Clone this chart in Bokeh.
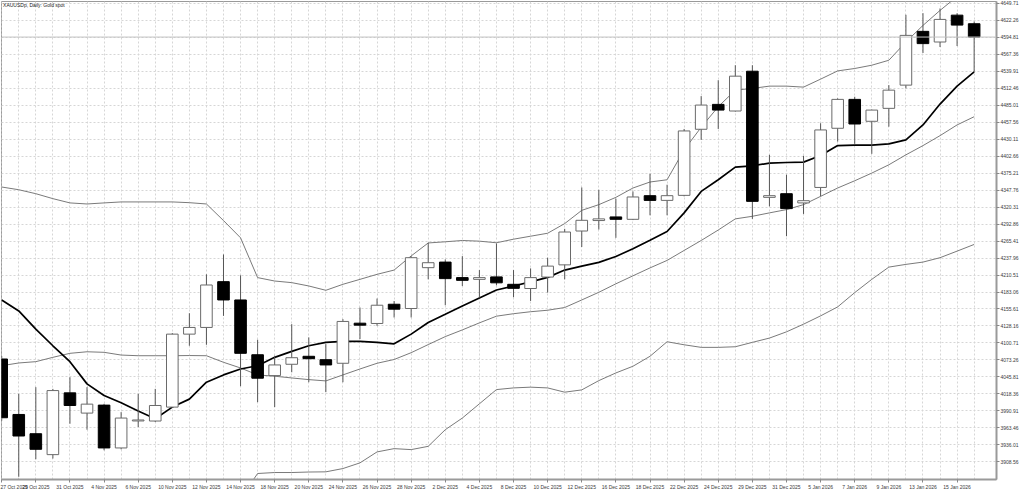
from bokeh.plotting import figure
from bokeh.models import Range1d, FixedTicker, PrintfTickFormatter, Span, Label, ColumnDataSource
from bokeh.embed import file_html
from bokeh.resources import INLINE

dates = ["27 Oct 2025", "28 Oct 2025", "29 Oct 2025", "30 Oct 2025", "31 Oct 2025",
         "3 Nov 2025", "4 Nov 2025", "5 Nov 2025", "6 Nov 2025", "7 Nov 2025",
         "10 Nov 2025", "11 Nov 2025", "12 Nov 2025", "13 Nov 2025", "14 Nov 2025",
         "17 Nov 2025", "18 Nov 2025", "19 Nov 2025", "20 Nov 2025", "21 Nov 2025",
         "24 Nov 2025", "25 Nov 2025", "26 Nov 2025", "27 Nov 2025", "28 Nov 2025",
         "1 Dec 2025", "2 Dec 2025", "3 Dec 2025", "4 Dec 2025", "5 Dec 2025",
         "8 Dec 2025", "9 Dec 2025", "10 Dec 2025", "11 Dec 2025", "12 Dec 2025",
         "15 Dec 2025", "16 Dec 2025", "17 Dec 2025", "18 Dec 2025", "19 Dec 2025",
         "22 Dec 2025", "23 Dec 2025", "24 Dec 2025", "26 Dec 2025", "29 Dec 2025",
         "30 Dec 2025", "31 Dec 2025", "2 Jan 2026", "5 Jan 2026", "6 Jan 2026",
         "7 Jan 2026", "8 Jan 2026", "9 Jan 2026", "12 Jan 2026", "13 Jan 2026",
         "14 Jan 2026", "15 Jan 2026", "16 Jan 2026"]

opens = [4074.8, 3985.2, 3954.1, 3920.3, 4020.1, 3987.4, 4000.3, 3931.1, 3974.7, 3974.6,
         3997.1, 4115.0, 4125.8, 4199.8, 4170.2, 4081.7, 4048.0, 4066.3, 4079.2, 4073.7,
         4067.9, 4132.7, 4132.2, 4163.3, 4156.4, 4222.4, 4231.4, 4206.3, 4203.5, 4207.5,
         4195.5, 4188.7, 4207.2, 4226.9, 4281.6, 4298.5, 4304.4, 4300.5, 4338.7, 4331.1,
         4339.2, 4446.0, 4486.2, 4475.5, 4539.8, 4336.0, 4341.9, 4327.0, 4352.0, 4447.6,
         4494.3, 4458.9, 4479.8, 4517.3, 4604.2, 4587.0, 4630.4, 4616.5]
highs = [4079.6, 4018.5, 4029.3, 4026.5, 4045.4, 4029.3, 4002.4, 3989.0, 4018.5, 4026.5,
         4116.6, 4148.8, 4211.6, 4243.7, 4210.0, 4105.9, 4080.1, 4131.1, 4109.7, 4098.9,
         4139.2, 4158.0, 4172.5, 4168.6, 4241.0, 4262.6, 4235.7, 4241.0, 4218.5, 4261.5,
         4218.5, 4221.2, 4238.5, 4285.1, 4352.0, 4348.3, 4333.9, 4345.6, 4374.1, 4356.4,
         4446.5, 4499.6, 4525.3, 4549.5, 4549.5, 4404.7, 4372.5, 4403.1, 4455.7, 4495.9,
         4498.5, 4477.8, 4517.3, 4631.0, 4633.6, 4641.2, 4633.6, 4620.2]
lows = [3975.0, 3884.5, 3912.8, 3914.0, 3970.2, 3960.6, 3927.3, 3928.9, 3964.9, 3973.0,
        3996.0, 4096.2, 4097.8, 4144.5, 4030.9, 4005.1, 3997.1, 4053.4, 4037.3, 4021.2,
        4037.3, 4107.0, 4128.4, 4141.9, 4141.9, 4203.5, 4161.7, 4192.8, 4174.1, 4193.9,
        4174.6, 4168.6, 4182.1, 4203.5, 4255.8, 4284.0, 4270.6, 4299.3, 4307.0, 4307.0,
        4337.6, 4428.8, 4446.5, 4474.6, 4301.2, 4321.5, 4273.2, 4309.2, 4337.6, 4426.1,
        4422.4, 4406.3, 4450.2, 4512.0, 4569.2, 4578.9, 4580.5, 4538.7]
closes = [3979.9, 3950.4, 3928.9, 4023.8, 3999.7, 4001.9, 3931.1, 3979.4, 3976.3, 3999.7,
          4115.0, 4125.8, 4194.4, 4170.2, 4084.0, 4043.8, 4065.2, 4076.9, 4075.3, 4065.2,
          4135.5, 4129.5, 4161.7, 4155.3, 4238.5, 4230.4, 4204.7, 4201.9, 4206.3, 4197.9,
          4189.0, 4206.3, 4224.9, 4280.0, 4298.9, 4301.2, 4300.5, 4336.6, 4331.1, 4338.7,
          4443.3, 4485.1, 4477.0, 4531.8, 4329.5, 4338.7, 4317.8, 4330.6, 4444.9, 4494.3,
          4454.5, 4477.0, 4509.2, 4597.7, 4584.4, 4623.5, 4614.3, 4595.0]

ma_line = [4170.2, 4152.5, 4123.1, 4096.2, 4070.5, 4034.6, 4015.8, 4004.0, 3990.7, 3978.3,
           3997.1, 4010.0, 4037.3, 4049.1, 4058.7, 4064.0, 4077.5, 4087.2, 4096.2, 4101.7,
           4103.3, 4103.3, 4101.7, 4099.4, 4115.0, 4133.9, 4147.2, 4160.6, 4173.5, 4186.3,
           4192.8, 4199.5, 4206.7, 4218.5, 4224.9, 4230.9, 4240.5, 4253.1, 4266.8, 4280.8,
           4310.9, 4345.6, 4364.4, 4384.9, 4387.0, 4391.3, 4392.3, 4392.9, 4403.5, 4419.6,
           4420.3, 4420.3, 4422.4, 4428.8, 4453.0, 4486.7, 4515.7, 4538.7]
upper_line = [4352.7, 4348.3, 4341.9, 4333.9, 4327.0, 4325.3, 4327.0, 4328.6, 4328.6, 4328.6,
              4328.6, 4327.4, 4325.3, 4298.5, 4270.6, 4206.3, 4200.8, 4198.2, 4192.8, 4185.8,
              4195.5, 4203.5, 4211.6, 4218.5, 4241.3, 4262.3, 4264.2, 4266.3, 4265.2, 4262.6,
              4268.4, 4273.2, 4278.0, 4293.6, 4315.0, 4324.2, 4336.0, 4351.1, 4360.8, 4364.4,
              4412.7, 4449.2, 4482.4, 4509.2, 4512.0, 4515.7, 4515.7, 4514.1, 4527.0, 4540.3,
              4544.2, 4549.5, 4557.5, 4587.0, 4613.8, 4638.0, 4660.5, 4679.8]
lower_line = [4064.0, 4068.4, 4070.5, 4077.5, 4084.0, 4086.5, 4085.6, 4081.2, 4080.1, 4080.1,
              4080.1, 4080.4, 4080.1, 4069.5, 4060.3, 4049.1, 4047.0, 4044.2, 4041.5, 4039.4,
              4049.1, 4058.7, 4067.9, 4074.0, 4085.0, 4098.1, 4111.0, 4121.8, 4133.2, 4144.0,
              4148.0, 4151.2, 4153.6, 4158.0, 4170.2, 4182.6, 4196.3, 4209.2, 4222.0, 4234.1,
              4250.2, 4266.3, 4283.2, 4301.2, 4305.4, 4310.9, 4316.2, 4324.2, 4337.6, 4351.1,
              4362.8, 4375.2, 4388.6, 4404.7, 4419.6, 4435.7, 4453.0, 4466.3]
outer_start = 14
outer_line = [3849.6, 3889.8, 3891.4, 3891.4, 3892.2, 3892.5, 3897.8, 3907.0, 3924.7, 3930.0,
              3928.4, 3933.7, 3960.6, 3979.4, 4002.4, 4025.4, 4028.1, 4029.3, 4028.1, 4021.2,
              4024.9, 4039.9, 4052.3, 4063.1, 4079.2, 4102.7, 4097.8, 4093.6, 4093.6, 4094.6,
              4101.7, 4108.6, 4118.7, 4131.1, 4144.5, 4159.0, 4182.1, 4203.5, 4223.3, 4227.7,
              4231.4, 4238.5, 4249.1, 4259.9]

y_ticks = [4649.71, 4622.26, 4594.81, 4567.36, 4539.91, 4512.46, 4485.01, 4457.56,
           4430.11, 4402.66, 4375.21, 4347.76, 4320.31, 4292.86, 4265.41, 4237.96,
           4210.51, 4183.06, 4155.61, 4128.16, 4100.71, 4073.26, 4045.81, 4018.36,
           3990.91, 3963.46, 3936.01, 3908.56]
title_text = "XAUUSDp, Daily:  Gold spot"

FONT = "Liberation Sans"
n = len(dates)
idx = list(range(n))

p = figure(width=1024, height=492,
           x_range=Range1d(-0.012, 58.31), y_range=Range1d(3880.12, 4652.44),
           output_backend="svg", toolbar_location=None, y_axis_location="right",
           min_border_left=1, min_border_top=1, min_border_right=28, min_border_bottom=11,
           background_fill_color="white", border_fill_color="white",
           outline_line_color="#9a9a9a", outline_line_width=1)

# axes
p.xaxis.ticker = FixedTicker(ticks=idx[0::2])
p.xaxis.major_label_overrides = {i: dates[i] for i in idx[0::2]}
p.xaxis.major_label_text_align = "left"
p.yaxis.ticker = FixedTicker(ticks=y_ticks)
p.yaxis.formatter = PrintfTickFormatter(format="%.2f")
for ax in (p.xaxis[0], p.yaxis[0]):
    ax.major_label_text_font = FONT
    ax.major_label_text_font_size = "5px"
    ax.major_label_text_color = "#3a3a3a"
    ax.major_tick_out = 3
    ax.major_tick_in = 0
    ax.minor_tick_out = 0
    ax.minor_tick_in = 0
    ax.major_tick_line_color = "#888888"
    ax.axis_line_color = "#9a9a9a"
    ax.axis_line_width = 2
    ax.major_label_standoff = 1

# grids
p.xgrid.ticker = FixedTicker(ticks=idx)
p.ygrid.ticker = FixedTicker(ticks=y_ticks)
for g in (p.xgrid[0], p.ygrid[0]):
    g.grid_line_color = "#d6d6d6"
    g.grid_line_dash = "2 2"
    g.grid_line_width = 1

# bid line
p.add_layout(Span(location=closes[-1], dimension="width", line_color="#c4c4c4", line_width=1))

# indicator lines
p.line(idx, upper_line, line_color="#7a7a7a", line_width=1)
p.line(idx, lower_line, line_color="#7a7a7a", line_width=1)
p.line(idx[outer_start:], outer_line, line_color="#7a7a7a", line_width=1)
p.line(idx, ma_line, line_color="#000000", line_width=1.7)

# candles
up = [i for i in idx if closes[i] > opens[i]]
dn = [i for i in idx if closes[i] <= opens[i]]
p.segment(x0=idx, y0=lows, x1=idx, y1=highs, line_color="#555555", line_width=1)
src_up = ColumnDataSource(dict(x=up, top=[closes[i] for i in up], bottom=[opens[i] for i in up]))
src_dn = ColumnDataSource(dict(x=dn, top=[opens[i] for i in dn], bottom=[closes[i] for i in dn]))
p.vbar(x="x", top="top", bottom="bottom", width=0.68, source=src_up,
       fill_color="white", line_color="#6a6a6a", line_width=1)
p.vbar(x="x", top="top", bottom="bottom", width=0.68, source=src_dn,
       fill_color="black", line_color="black", line_width=1)

# title
p.add_layout(Label(x=0.08, y=4646.0, text=title_text, text_font=FONT, text_font_size="5px",
                   text_color="#222222", text_baseline="middle"))
# bid price label on the price scale
p.add_layout(Label(x=58.31, y=closes[-1], x_offset=2, text="%.2f" % closes[-1], text_font=FONT,
                   text_font_size="5px", text_color="white", text_baseline="middle",
                   background_fill_color="#b8b8b8", padding=2, level="overlay"))

open("out.html", "w").write(file_html(p, INLINE))
